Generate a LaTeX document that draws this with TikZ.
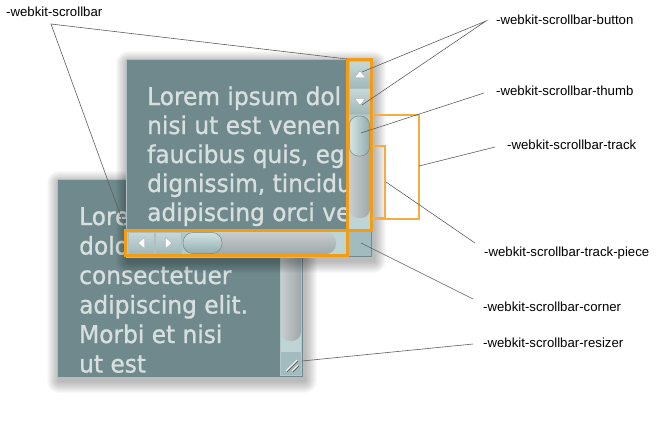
\documentclass[tikz,border=0pt]{standalone}
\usepackage{fontspec}
\setmainfont{Liberation Sans}
\newfontfamily\verdfont[FakeBold=1.0,FakeStretch=0.95]{DejaVu Sans}
\definecolor{winbg}{RGB}{111,137,141}
\definecolor{winedge}{RGB}{176,192,194}
\definecolor{wintext}{RGB}{216,223,223}
\definecolor{sbbg}{RGB}{178,200,202}
\definecolor{btnA}{RGB}{200,216,217}
\definecolor{btnB}{RGB}{160,184,187}
\definecolor{thumbA}{RGB}{212,227,228}
\definecolor{thumbB}{RGB}{146,172,175}
\definecolor{trackA}{RGB}{200,205,206}
\definecolor{trackB}{RGB}{158,168,170}
\definecolor{lightend}{RGB}{190,212,213}
\definecolor{cornerbg}{RGB}{162,187,190}
\definecolor{orng}{RGB}{243,157,20}
\definecolor{lorng}{RGB}{246,172,66}
\definecolor{leadgrey}{RGB}{95,95,95}
\newcommand\softshadow[4]{%
  \foreach \i in {1,...,12}{%
    \fill[black,opacity=0.022,rounded corners=\i pt] (#1-\i+2,#2-\i+4) rectangle (#3+\i+2,#4+\i+4);}}
\begin{document}
\begin{tikzpicture}[x=1pt,y=-1pt,
  lbl/.style={anchor=west,inner sep=0pt,font=\fontsize{13.2}{15}\selectfont,text=black},
  leader/.style={draw=leadgrey,line width=0.6pt},
  txtfront/.style={anchor=base west,inner sep=0pt,text=wintext,font=\verdfont\fontsize{24.5}{28}\selectfont},
  orangebox/.style={draw=orng,line width=3pt},
  bracket/.style={draw=lorng,line width=1.3pt},
  sbbtn/.style={top color=btnA,bottom color=btnB,draw=winedge,line width=0.5pt},
  tri/.style={fill=white,draw=gray!70,line width=0.3pt}]
\useasboundingbox (0,0) rectangle (660,420);
\fill[white] (0,0) rectangle (660,420);

% ---------- back window ----------
\softshadow{57}{179}{303}{377}
\fill[winbg] (57,179) rectangle (303,377);
\fill[sbbg] (280,180) rectangle (302,376);
\fill[lightend] (281,320) rectangle (301,352);
\shade[left color=trackA,right color=trackB,rounded corners=9pt] (281,170) rectangle (301,341);
\fill[cornerbg] (281,352) rectangle (301,375);
\draw[white,line width=0.8pt] (286,371) -- (297,360);
\draw[white,line width=0.8pt] (292,371) -- (298,365);
\draw[gray!60!black,line width=0.5pt] (287,372) -- (298,361);
\draw[gray!60!black,line width=0.5pt] (293,372) -- (299,366);
\draw[winedge,line width=0.8pt] (57,179) rectangle (303,377);
\begin{scope}
  \clip (58,180) rectangle (280,376);
  \node[txtfront] (b1) at (79,225) {Lorem};
  \node[txtfront] (b2) at (79,254.5) {dolor};
  \node[txtfront] (b3) at (79,284) {consectetuer};
  \node[txtfront] (b4) at (79,313.5) {adipiscing elit.};
  \node[txtfront] (b5) at (79,343) {Morbi et nisi};
  \node[txtfront] (b6) at (79,372.5) {ut est};
\end{scope}

% ---------- front window ----------
\softshadow{126}{59}{372}{257}
\fill[winbg] (126,59) rectangle (372,257);
\begin{scope}
  \clip (126,59) rectangle (347,230);
  \node[txtfront] (f1) at (147,105) {Lorem ipsum dol};
  \node[txtfront] (f2) at (147,134) {nisi ut est venen};
  \node[txtfront] (f3) at (147,163) {faucibus quis, eg};
  \node[txtfront] (f4) at (147,192) {dignissim, tincidu};
  \node[txtfront] (f5) at (147,221) {adipiscing orci ve};
\end{scope}
% vertical scrollbar
\fill[sbbg] (348,60) rectangle (371,230);
\shade[sbbtn] (349,61) rectangle (370,88);
\shade[sbbtn] (349,88) rectangle (370,114);
\filldraw[tri] (354.5,77.5) -- (365.5,77.5) -- (360,71) -- cycle;
\filldraw[tri] (354.5,98.5) -- (365.5,98.5) -- (360,105) -- cycle;
\fill[lightend] (349,200) rectangle (370,229);
\shade[left color=trackA,right color=trackB,rounded corners=9pt] (349,140) rectangle (370,218);
\shade[left color=thumbA,right color=thumbB,rounded corners=9pt,draw=thumbB!80!black,line width=0.5pt] (349.5,116) rectangle (369.5,156);
% horizontal scrollbar
\fill[sbbg] (126,231) rectangle (346,255);
\shade[sbbtn] (128,232) rectangle (154,254);
\shade[sbbtn] (155,232) rectangle (181,254);
\filldraw[tri] (144.5,237.5) -- (144.5,248.5) -- (138,243) -- cycle;
\filldraw[tri] (165.5,237.5) -- (165.5,248.5) -- (172,243) -- cycle;
\fill[lightend] (315,232) rectangle (346,254);
\shade[top color=trackA,bottom color=trackB,rounded corners=10pt] (200,232) rectangle (336,254);
\shade[top color=thumbA,bottom color=thumbB,rounded corners=10pt,draw=thumbB!80!black,line width=0.5pt] (183,232.5) rectangle (222,253.5);
% corner
\fill[cornerbg] (348,232) rectangle (371,256);
\draw[winedge,line width=0.8pt] (126,59) rectangle (372,257);
% orange outlines
\draw[orangebox] (347.5,59.5) rectangle (371.5,230.5);
\draw[orangebox] (125.5,230) rectangle (347,255.5);
% brackets
\draw[bracket] (372,115) -- (419,115) -- (419,219) -- (372,219);
\draw[bracket] (372,146) -- (385,146) -- (385,218) -- (372,218);

% ---------- labels ----------
\node[lbl] (lsb) at (6,12) {-webkit-scrollbar};
\node[lbl] (lbtn) at (496,20) {-webkit-scrollbar-button};
\node[lbl] (lthumb) at (496,91) {-webkit-scrollbar-thumb};
\node[lbl] (ltrack) at (507,145) {-webkit-scrollbar-track};
\node[lbl] (lpiece) at (484,253) {-webkit-scrollbar-track-piece};
\node[lbl] (lcorner) at (483,307) {-webkit-scrollbar-corner};
\node[lbl] (lresizer) at (483,343) {-webkit-scrollbar-resizer};

% ---------- leader lines ----------
\coordinate (s0) at (51,24);
\coordinate (s1) at (347,59);
\coordinate (s2) at (124,225);
\coordinate (bt0) at (486,21);
\coordinate (bt1) at (362,72);
\coordinate (bt2) at (362,105);
\coordinate (th0) at (484,93);
\coordinate (th1) at (361,133);
\coordinate (tr0) at (495,147);
\coordinate (tr1) at (419,166);
\coordinate (tp0) at (475,243);
\coordinate (tp1) at (386,182);
\coordinate (co0) at (473,299);
\coordinate (co1) at (361,243);
\coordinate (rz0) at (473,344);
\coordinate (rz1) at (302,361);
\draw[leader] (s1) -- (s0) -- (s2);
\draw[leader] (bt1) -- (bt0) -- (bt2);
\draw[leader] (th0) -- (th1);
\draw[leader] (tr0) -- (tr1);
\draw[leader] (tp0) -- (tp1);
\draw[leader] (co0) -- (co1);
\draw[leader] (rz0) -- (rz1);
\end{tikzpicture}
\end{document}
